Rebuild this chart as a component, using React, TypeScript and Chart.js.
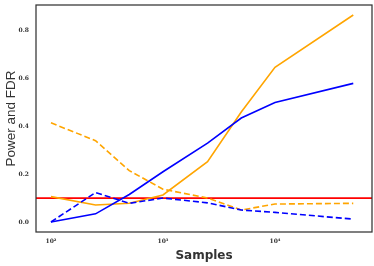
import React, { useEffect, useRef } from "react";
import { Chart, registerables } from "chart.js";

Chart.register(...registerables);

const samples = [100, 250, 500, 1000, 2500, 5000, 10000, 50000];
const powerA = [0.0, 0.034, 0.115, 0.21, 0.33, 0.435, 0.5, 0.58];
const fdrA = [0.0, 0.123, 0.078, 0.1, 0.08, 0.05, 0.04, 0.012];
const powerB = [0.106, 0.071, 0.078, 0.113, 0.252, 0.46, 0.647, 0.866];
const fdrB = [0.415, 0.34, 0.215, 0.137, 0.1, 0.05, 0.075, 0.078];
const threshold = 0.1;
const xRange = [73.5, 73500];
const yRange = [-0.042, 0.908];
const xTicks = [100, 1000, 10000];
const xTickLabels = ["10²", "10³", "10⁴"];
const yTicks = [0.0, 0.2, 0.4, 0.6, 0.8];

const pts = (ys: number[]) => samples.map((x, i) => ({ x, y: ys[i] }));

const frame = {
  id: "frame",
  afterDatasetsDraw(chart: any) {
    const { ctx, chartArea } = chart;
    ctx.save();
    ctx.strokeStyle = "#333";
    ctx.lineWidth = 1.25;
    ctx.strokeRect(chartArea.left, chartArea.top, chartArea.right - chartArea.left, chartArea.bottom - chartArea.top);
    ctx.restore();
  },
};

export default function App() {
  const ref = useRef<HTMLCanvasElement>(null);
  useEffect(() => {
    document.body.style.margin = "0";
    const c = new Chart(ref.current!, {
      type: "line",
      data: {
        datasets: [
          { data: pts(powerA), borderColor: "#0000ff", borderWidth: 1.6, pointRadius: 0, tension: 0 },
          { data: pts(fdrA), borderColor: "#0000ff", borderWidth: 1.6, borderDash: [6, 3], pointRadius: 0, tension: 0 },
          { data: pts(powerB), borderColor: "#ffa500", borderWidth: 1.6, pointRadius: 0, tension: 0 },
          { data: pts(fdrB), borderColor: "#ffa500", borderWidth: 1.6, borderDash: [6, 3], pointRadius: 0, tension: 0 },
          { data: [{ x: xRange[0], y: threshold }, { x: xRange[1], y: threshold }], borderColor: "#ff0000", borderWidth: 1.8, pointRadius: 0 },
        ],
      },
      options: {
        responsive: false,
        animation: false,
        layout: { padding: { top: 5, right: 2, left: 0, bottom: 0 } },
        plugins: { legend: { display: false }, tooltip: { enabled: false } },
        scales: {
          x: {
            type: "logarithmic",
            min: xRange[0],
            max: xRange[1],
            grid: { display: false, drawTicks: false },
            border: { display: false },
            afterBuildTicks: (s: any) => { s.ticks = xTicks.map((v) => ({ value: v })); },
            afterFit: (s: any) => { s.height = 34; s.paddingLeft = 0; s.paddingRight = 0; },
            ticks: {
              autoSkip: false,
              maxRotation: 0,
              padding: 6,
              color: "#333",
              font: { family: "DejaVu Serif", size: 6, weight: "bold" },
              callback: (v: any) => { const i = xTicks.indexOf(Number(v)); return i >= 0 ? xTickLabels[i] : ""; },
            },
            title: { display: true, text: "Samples", color: "#333", font: { family: "DejaVu Sans", size: 12, weight: "bold" }, padding: { top: 0, bottom: 3 } },
          },
          y: {
            min: yRange[0],
            max: yRange[1],
            grid: { display: false, drawTicks: false },
            border: { display: false },
            afterBuildTicks: (s: any) => { s.ticks = yTicks.map((v) => ({ value: v })); },
            afterFit: (s: any) => { s.width = 36; s.paddingTop = 0; s.paddingBottom = 0; },
            ticks: {
              padding: 7,
              color: "#333",
              font: { family: "DejaVu Serif", size: 6, weight: "bold" },
              callback: (v: any) => Number(v).toFixed(1),
            },
            title: { display: true, text: "Power and FDR", color: "#333", font: { family: "Liberation Sans", size: 13.5 }, padding: { top: 3, bottom: 0 } },
          },
        },
      },
      plugins: [frame],
    });
    return () => c.destroy();
  }, []);
  return <canvas ref={ref} width={374} height={266} style={{ display: "block", width: 374, height: 266 }} />;
}
